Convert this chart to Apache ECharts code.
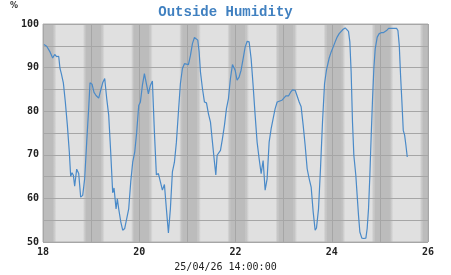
<!DOCTYPE html>
<html>
<head>
<meta charset="utf-8">
<script src="https://cdn.jsdelivr.net/npm/echarts@6/dist/echarts.min.js"></script>
<style>html,body{margin:0;padding:0;background:#fff}#c{width:451px;height:275px}</style>
</head>
<body>
<div id="c"></div>
<script>
// time in days of month (April 2025), humidity in %
const times = [
18.021,18.076,18.146,18.201,18.243,18.284,18.326,18.353,18.381,18.423,18.464,18.506,18.547,18.575,18.603,18.631,18.658,18.700,18.742,18.783,18.825,18.866,18.908,18.949,18.977,
19.019,19.060,19.102,19.157,19.199,19.240,19.282,19.324,19.365,19.407,19.448,19.476,19.518,19.545,19.573,19.615,19.656,19.698,19.739,19.781,19.823,19.864,19.906,19.947,19.989,
20.024,20.065,20.107,20.148,20.190,20.231,20.273,20.315,20.356,20.398,20.439,20.481,20.523,20.564,20.606,20.647,20.689,20.731,20.772,20.814,20.855,20.897,20.939,20.980,
21.022,21.064,21.105,21.147,21.188,21.216,21.244,21.272,21.313,21.355,21.397,21.438,21.480,21.521,21.563,21.591,21.618,21.646,21.688,21.729,21.771,21.812,21.854,21.895,21.937,
21.992,22.033,22.075,22.116,22.158,22.200,22.241,22.283,22.325,22.366,22.408,22.449,22.491,22.533,22.574,22.616,22.657,22.699,22.741,22.782,22.824,22.866,22.907,22.963,
23.004,23.046,23.101,23.142,23.184,23.239,23.281,23.323,23.364,23.406,23.447,23.489,23.531,23.572,23.614,23.655,23.683,23.725,23.766,23.808,23.850,23.891,23.947,23.988,
24.029,24.071,24.112,24.154,24.195,24.237,24.279,24.320,24.348,24.376,24.403,24.431,24.459,24.500,24.528,24.556,24.584,24.625,24.667,24.709,24.736,24.764,24.792,24.820,24.848,24.875,24.903,24.945,24.986,
25.028,25.070,25.111,25.139,25.181,25.236,25.292,25.347,25.375,25.403,25.430,25.458,25.486,25.514,25.541,25.569
];
const humidity = [
95.3,94.9,93.6,92.2,93.0,92.5,92.6,89.8,88.6,86.5,82.1,76.8,70.6,65.1,65.9,65.3,62.8,66.7,65.7,60.3,60.7,64.5,72.9,80.6,86.5,
86.2,84.3,83.6,83.0,84.8,86.5,87.5,82.9,79.1,70.6,61.3,62.4,57.6,59.9,57.6,54.7,52.7,53.1,53.3,57.6,63.8,68.3,70.6,75.2,81.3,
82.1,85.9,88.6,88.2,84.0,85.9,86.9,75.2,65.4,65.7,65.4,61.9,63.2,57.6,52.1,57.6,66.1,68.3,72.9,79.8,86.3,89.8,90.9,91.1,
90.7,92.8,95.5,96.9,97.0,96.3,93.6,89.0,85.2,82.1,81.9,79.4,77.5,72.9,68.3,65.4,69.9,69.5,71.0,73.7,76.8,80.6,82.9,87.5,90.7,
89.4,87.1,87.8,89.4,92.0,94.7,96.0,95.9,92.0,85.9,79.1,72.9,69.1,65.7,68.7,61.9,64.5,72.9,76.0,78.3,80.6,82.1,82.5,82.5,
82.7,83.5,83.5,84.3,84.9,84.8,83.5,82.1,81.0,76.8,72.2,66.8,64.5,62.6,56.9,52.7,53.2,57.6,66.8,77.5,86.3,89.5,92.2,93.6,
94.7,95.9,97.0,97.8,98.2,98.8,99.1,99.1,98.3,95.9,89.0,77.5,69.9,65.3,60.7,56.1,52.3,50.9,50.8,50.9,53.1,57.6,65.3,74.5,82.9,89.8,94.3,97.0,97.8,
98.0,98.0,98.0,98.5,99.0,99.0,99.0,99.0,98.5,95.1,88.2,82.1,75.6,74.5,72.2,69.5
];
const nightDays = [18,19,20,21,22,23,24,25,26];
const xMin = 18, xMax = 26;
const titleText = 'Outside Humidity';
const xAxisName = '25/04/26 14:00:00';

const dayColor = '#e0e0e0';
const nightColor = '#bcbcbc';
function grad(a, b) {
  return {type:'linear', x:0, y:0, x2:1, y2:0, colorStops:[{offset:0,color:a},{offset:1,color:b}]};
}
const areas = [[{xAxis: xMin, itemStyle: {color: dayColor}}, {xAxis: xMax}]];
function addArea(s, e, color) {
  s = Math.max(s, xMin); e = Math.min(e, xMax);
  if (e - s <= 0.001) return;
  areas.push([{xAxis: s, itemStyle: {color: color}}, {xAxis: e}]);
}
nightDays.forEach(function (d) {
  addArea(d - 0.17, d - 0.11, grad(dayColor, nightColor));
  addArea(d - 0.11, d + 0.21, nightColor);
  addArea(d + 0.21, d + 0.28, grad(nightColor, dayColor));
});

const chart = echarts.init(document.getElementById('c'), null, {renderer: 'canvas'});
chart.setOption({
  animation: false,
  backgroundColor: '#ffffff',
  title: {
    text: titleText, left: 'center', top: 0,
    textStyle: {fontFamily: 'Liberation Mono', fontWeight: 'bold', fontSize: 14, color: '#4080c0'}
  },
  graphic: [
    {type: 'text', left: 10, top: 2, style: {text: '%', font: 'bold 8px "DejaVu Sans"', fill: '#333'}},
    {type: 'text', left: 'center', top: 262, style: {text: xAxisName, font: '10px "DejaVu Sans Mono"', fill: '#222'}}
  ],
  grid: {left: 43, right: 23, top: 24, bottom: 33, show: true, backgroundColor: 'transparent', borderColor: '#b0b0b0', borderWidth: 1, z: 0},
  xAxis: {
    type: 'value', min: xMin, max: xMax, interval: 1, z: 1,
    axisLine: {show: false}, axisTick: {show: false},
    splitLine: {show: true, lineStyle: {color: '#a6a6a6', width: 1}},
    axisLabel: {
      margin: 5, color: '#222', fontFamily: 'DejaVu Sans Mono', fontWeight: 'bold', fontSize: 10,
      formatter: function (v) { return v % 2 === 0 ? String(v) : ''; }
    }
  },
  yAxis: {
    type: 'value', min: 50, max: 100, interval: 5, z: 1,
    axisLine: {show: false}, axisTick: {show: false},
    splitLine: {show: true, lineStyle: {color: '#a6a6a6', width: 1}},
    axisLabel: {
      margin: 4, color: '#222', fontFamily: 'DejaVu Sans Mono', fontWeight: 'bold', fontSize: 10,
      formatter: function (v) { return v % 10 === 0 ? String(v) : ''; }
    }
  },
  series: [
    {
      type: 'line', data: [], z: -1, silent: true,
      markArea: {silent: true, z: -1, data: areas}
    },
    {
      type: 'line', z: 3,
      data: times.map(function (t, i) { return [t, humidity[i]]; }),
      showSymbol: false, symbol: 'none',
      lineStyle: {color: '#4a8ac8', width: 1.2}
    }
  ]
});
</script>
</body>
</html>
